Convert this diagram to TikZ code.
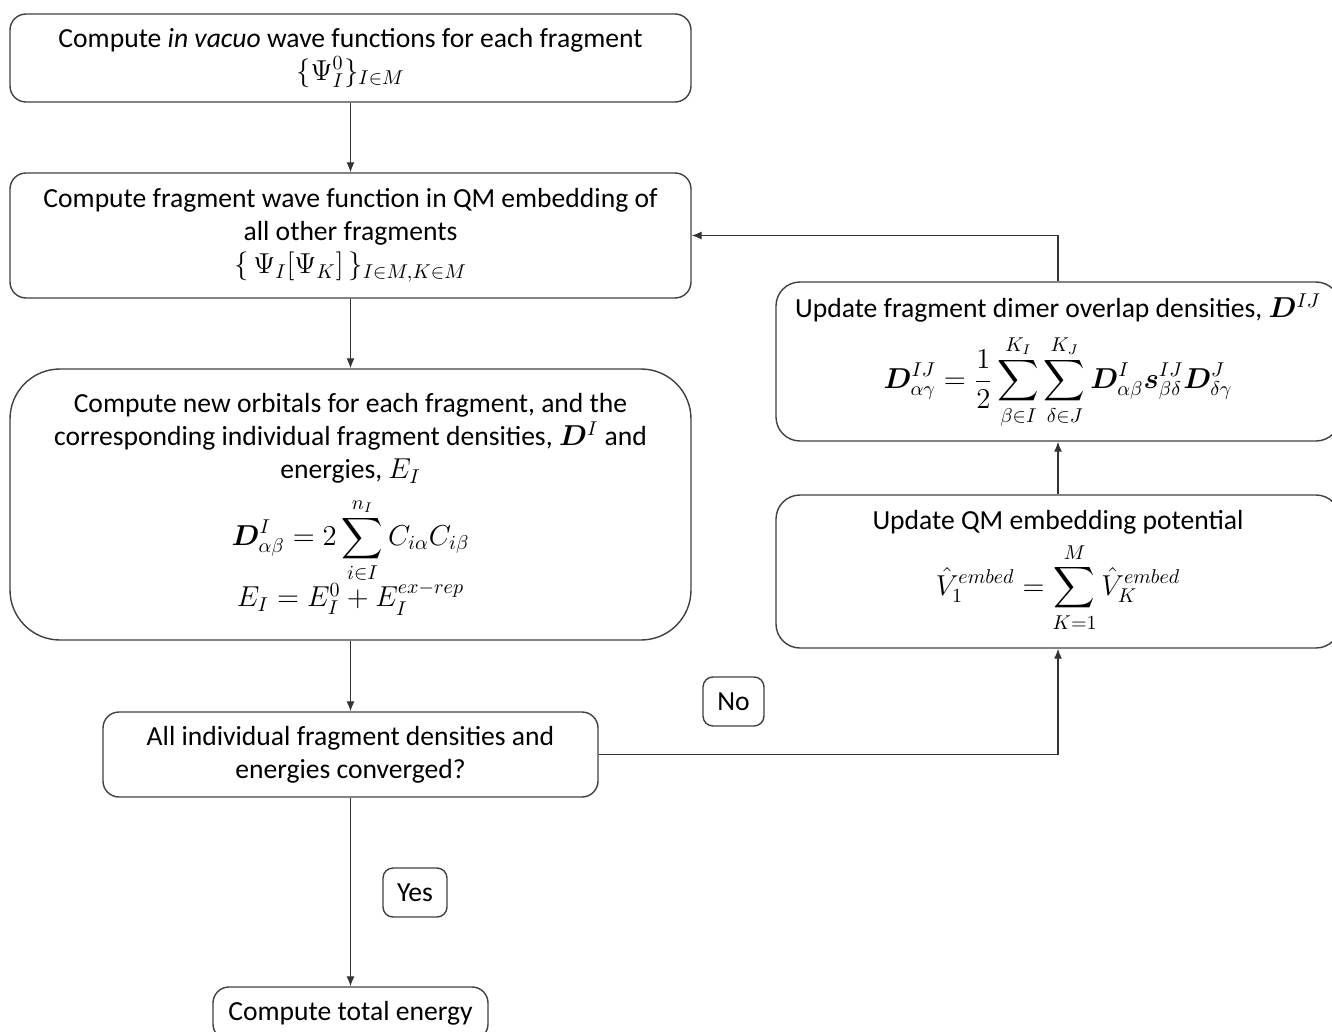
\documentclass[tikz,border=0pt]{standalone}
\usepackage{fontspec}
\setmainfont{Carlito}
\usepackage{amsmath}
\usepackage{bm}
\usetikzlibrary{arrows.meta}

\begin{document}
\begin{tikzpicture}[x=0.5pt, y=-0.5pt,
  stepbox/.style={draw=black!75, line width=0.7pt, rounded corners=8pt,
    align=center, inner sep=0pt, font=\fontsize{13.8}{16.5}\selectfont},
  tagbox/.style={draw=black!75, line width=0.7pt, rounded corners=5pt,
    inner sep=0pt, font=\fontsize{13.8}{16}\selectfont},
  flow/.style={draw=black!80, line width=0.6pt, -{Latex[length=5pt,width=4pt]}}]

\useasboundingbox (0,0) rectangle (1332,1032);
\clip (0,0) rectangle (1332,1032);

% left column
\node[stepbox, minimum width=340.5pt, minimum height=44pt] (vacuo) at (350.5,58)
  {Compute \textit{in vacuo} wave functions for each fragment\\
   $\{\Psi_I^0\}_{I\in M}$};

\node[stepbox, minimum width=340.5pt, minimum height=62.5pt] (embed) at (350.5,235.5)
  {Compute fragment wave function in QM embedding of\\
   all other fragments\\
   $\{\,\Psi_I[\Psi_K]\,\}_{I\in M,K\in M}$};

\node[stepbox, rounded corners=25pt, minimum width=340.5pt, minimum height=135.5pt] (orbs) at (350.5,504.5)
  {Compute new orbitals for each fragment, and the\\
   corresponding individual fragment densities, $\bm{D}^I$ and\\
   energies, $E_I$\\[6pt]
   $\displaystyle \bm{D}^I_{\alpha\beta} = 2\sum_{i\in I}^{n_I} C_{i\alpha}C_{i\beta}$\\[-2pt]
   $E_I = E_I^0 + E_I^{ex-rep}$};

\node[stepbox, minimum width=247.5pt, minimum height=42.5pt] (conv) at (350.5,754.5)
  {All individual fragment densities and\\
   energies converged?};

\node[stepbox, minimum width=137.5pt, minimum height=26.5pt] (total) at (350.5,1013.5)
  {Compute total energy};

% right column
\node[stepbox, rounded corners=12pt, minimum width=282pt, minimum height=79.5pt] (dimer) at (1058,361.5)
  {Update fragment dimer overlap densities, $\bm{D}^{IJ}$\\[5.5pt]
   $\displaystyle \bm{D}^{IJ}_{\alpha\gamma} = \frac{1}{2}\sum_{\beta\in I}^{K_I}\sum_{\delta\in J}^{K_J}
     \bm{D}^I_{\alpha\beta}\bm{s}^{IJ}_{\beta\delta}\bm{D}^J_{\delta\gamma}$};

\node[stepbox, rounded corners=12pt, minimum width=282pt, minimum height=76.5pt] (pot) at (1058,571.5)
  {Update QM embedding potential\\[3pt]
   $\displaystyle \hat{V}_1^{embed} = \sum_{K=1}^{M}\hat{V}_K^{embed}$};

% answers
\node[tagbox, minimum width=30.5pt, minimum height=24.5pt] (no) at (733.5,701.5) {No};
\node[tagbox, minimum width=32pt, minimum height=24.5pt] (yes) at (415,892.5) {Yes};

% connectors
\draw[flow] (vacuo) -- (embed);
\draw[flow] (embed) -- (orbs);
\draw[flow] (orbs) -- (conv);
\draw[flow] (conv) -- (total);
\draw[flow] (conv.east) -| (pot.south);
\draw[flow] (pot) -- (dimer);
\draw[flow] (dimer.north) |- (embed.east);

\end{tikzpicture}
\end{document}
